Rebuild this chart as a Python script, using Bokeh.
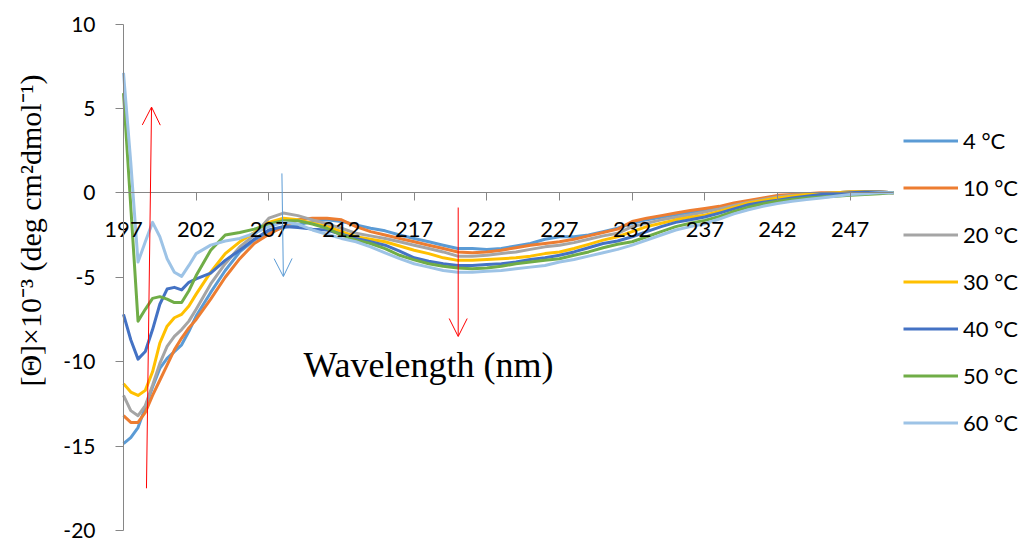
from bokeh.plotting import figure
from bokeh.models import Range1d, FixedTicker, Legend, LegendItem, Label, Arrow, OpenHead
from bokeh.embed import file_html
from bokeh.resources import INLINE

# ---- data ----
wavelength = [197, 197.5, 198, 198.5, 199, 199.5, 200, 200.5, 201, 201.5, 202,
              203, 204, 205, 206, 207, 208, 209, 210, 211, 212,
              213, 214, 215, 216, 217, 218, 219, 220, 221, 222,
              223, 224, 225, 226, 227, 228, 229, 230, 231, 232,
              233, 234, 235, 236, 237, 238, 239, 240, 241, 242,
              243, 244, 245, 246, 247, 248, 249, 250]

t4 = [-14.85, -14.5, -13.9, -12.7, -11.5, -10.4, -9.8, -9.4, -9.0, -8.2, -7.3,
      -5.9, -4.6, -3.5, -2.8, -2.35, -2.05, -1.9, -1.7, -1.6, -1.7,
      -1.9, -2.1, -2.25, -2.5, -2.7, -2.9, -3.1, -3.3, -3.3, -3.35,
      -3.3, -3.15, -3.0, -2.75, -2.6, -2.6, -2.5, -2.3, -2.1, -1.8,
      -1.6, -1.45, -1.3, -1.15, -1.0, -0.85, -0.7, -0.55, -0.4, -0.25,
      -0.15, -0.1, -0.05, 0.0, 0.05, 0.05, 0.05, 0.0]

t10 = [-13.2, -13.6, -13.6, -13.0, -12.0, -11.1, -10.2, -9.3, -8.6, -8.0, -7.5,
       -6.3, -5.0, -3.9, -3.0, -2.45, -2.0, -1.6, -1.5, -1.5, -1.6,
       -2.0, -2.3, -2.5, -2.7, -2.9, -3.1, -3.3, -3.5, -3.55, -3.5,
       -3.4, -3.25, -3.1, -3.0, -2.9, -2.75, -2.55, -2.35, -2.15, -1.7,
       -1.5, -1.35, -1.2, -1.05, -0.93, -0.8, -0.6, -0.45, -0.3, -0.15,
       -0.1, -0.05, 0.0, 0.0, 0.05, 0.05, 0.05, 0.0]

t20 = [-12.0, -12.9, -13.2, -12.6, -11.4, -10.1, -9.1, -8.5, -8.1, -7.6, -6.9,
       -5.4, -4.2, -3.2, -2.5, -1.5, -1.2, -1.35, -1.6, -1.85, -2.1,
       -2.4, -2.55, -2.7, -2.9, -3.1, -3.3, -3.5, -3.75, -3.75, -3.7,
       -3.6, -3.5, -3.35, -3.2, -3.1, -2.95, -2.75, -2.55, -2.4, -2.0,
       -1.8, -1.6, -1.45, -1.3, -1.13, -0.95, -0.75, -0.55, -0.4, -0.25,
       -0.15, -0.1, -0.05, 0.0, 0.05, 0.05, 0.05, 0.0]

t30 = [-11.3, -11.8, -12.0, -11.7, -10.6, -8.9, -7.9, -7.4, -7.2, -6.7, -6.0,
       -4.7, -3.6, -2.9, -2.35, -1.75, -1.5, -1.6, -1.8, -2.0, -2.3,
       -2.6, -2.75, -2.9, -3.15, -3.4, -3.6, -3.85, -4.0, -4.0, -3.95,
       -3.9, -3.85, -3.75, -3.6, -3.5, -3.3, -3.05, -2.8, -2.6, -2.3,
       -2.0, -1.8, -1.6, -1.45, -1.33, -1.1, -0.85, -0.6, -0.45, -0.3,
       -0.2, -0.1, -0.05, 0.0, 0.05, 0.08, 0.05, 0.0]

t40 = [-7.2, -8.7, -9.85, -9.4, -8.1, -6.6, -5.7, -5.6, -5.75, -5.3, -5.1,
       -4.75, -4.0, -3.4, -2.75, -2.2, -2.0, -2.05, -2.15, -2.2, -2.45,
       -2.7, -2.9, -3.1, -3.45, -3.85, -4.05, -4.2, -4.3, -4.3, -4.25,
       -4.2, -4.1, -3.95, -3.85, -3.7, -3.5, -3.25, -3.0, -2.85, -2.6,
       -2.3, -2.0, -1.75, -1.6, -1.43, -1.2, -0.95, -0.7, -0.55, -0.44,
       -0.3, -0.2, -0.1, -0.05, 0.0, 0.05, 0.05, 0.0]

t50 = [5.9, -0.8, -7.6, -6.9, -6.25, -6.15, -6.3, -6.5, -6.5, -5.8, -4.9,
       -3.4, -2.5, -2.35, -2.15, -1.85, -1.65, -1.65, -1.85, -2.1, -2.5,
       -2.8, -3.0, -3.3, -3.7, -3.97, -4.2, -4.35, -4.45, -4.5, -4.45,
       -4.35, -4.2, -4.1, -4.0, -3.9, -3.7, -3.5, -3.25, -3.05, -2.9,
       -2.6, -2.3, -2.0, -1.8, -1.63, -1.4, -1.1, -0.85, -0.65, -0.5,
       -0.4, -0.3, -0.25, -0.2, -0.15, -0.1, -0.05, 0.0]

t60 = [7.1, 1.8, -4.1, -2.9, -1.75, -2.6, -3.9, -4.7, -4.95, -4.3, -3.6,
       -3.1, -2.85, -2.7, -2.4, -2.0, -1.75, -1.85, -2.2, -2.45, -2.7,
       -2.9, -3.2, -3.55, -3.9, -4.2, -4.4, -4.6, -4.7, -4.7, -4.65,
       -4.6, -4.5, -4.4, -4.3, -4.1, -3.95, -3.75, -3.55, -3.35, -3.1,
       -2.8, -2.5, -2.2, -2.0, -1.83, -1.55, -1.25, -1.0, -0.8, -0.63,
       -0.5, -0.4, -0.3, -0.2, -0.1, -0.05, 0.0, 0.0]

series_names = ["4 °C", "10 °C", "20 °C", "30 °C", "40 °C", "50 °C", "60 °C"]
series_values = [t4, t10, t20, t30, t40, t50, t60]
series_colors = ["#5B9BD5", "#ED7D31", "#A5A5A5", "#FFC000", "#4472C4", "#70AD47", "#9DC3E6"]

x_ticks = [197, 202, 207, 212, 217, 222, 227, 232, 237, 242, 247]
y_ticks = [-20, -15, -10, -5, 0, 5, 10]
y_tick_labels = ["-20", "-15", "-10", "-5", "0", "5", "10"]

x_title = "Wavelength (nm)"
y_title = "[Θ]×10⁻³ (deg cm²dmol⁻¹)"

# annotation arrows: (x_start, y_start, x_end, y_end, colour)
arrows = [
    (198.58, -17.5, 198.93, 5.08, "red"),
    (220.03, -0.87, 220.03, -8.51, "red"),
    (207.9, 1.15, 208.0, -4.96, "#5B9BD5"),
]

# ---- layout geometry (pixels) ----
W, H = 1022, 541
px_per_nm = 14.533
px_per_unit = 16.883
x0_px = 123.0      # where 197 nm sits
ytop_px = 23.5     # where +10 sits

x_start = 197 - x0_px / px_per_nm
x_end = x_start + W / px_per_nm
y_top = 10 + ytop_px / px_per_unit
y_bot = y_top - H / px_per_unit

p = figure(frame_width=W, frame_height=H, min_border=0,
           x_range=Range1d(x_start, x_end), y_range=Range1d(y_bot, y_top),
           output_backend="svg", toolbar_location=None)
p.outline_line_color = None
p.grid.visible = False
p.background_fill_color = "white"
p.border_fill_color = "white"

axis_col = "#868686"

xa = p.xaxis[0]
xa.fixed_location = 0
xa.bounds = (197, 250)
xa.ticker = FixedTicker(ticks=x_ticks)
xa.axis_line_color = axis_col
xa.major_tick_line_color = axis_col
xa.major_tick_in = 0
xa.major_tick_out = 8
xa.minor_tick_line_color = None
xa.major_label_standoff = 21
xa.major_label_text_font = "Lato"
xa.major_label_text_font_size = "22px"
xa.major_label_text_color = "black"

ya = p.yaxis[0]
ya.fixed_location = 197
ya.bounds = (-20, 10)
ya.ticker = FixedTicker(ticks=y_ticks)
ya.major_label_overrides = {v: s for v, s in zip(y_ticks, y_tick_labels)}
ya.axis_line_color = axis_col
ya.major_tick_line_color = axis_col
ya.major_tick_in = 0
ya.major_tick_out = 8
ya.minor_tick_line_color = None
ya.major_label_standoff = 20
ya.major_label_text_font = "Lato"
ya.major_label_text_font_size = "21px"
ya.major_label_text_color = "black"

items = []
for name, vals, col in zip(series_names, series_values, series_colors):
    r = p.line(wavelength, vals, line_color=col, line_width=3, line_join="round")
    items.append(LegendItem(label=name, renderers=[r]))

legend = Legend(items=items, location=(903, H - 446), orientation="vertical",
                glyph_width=55, glyph_height=47, label_height=47, spacing=0,
                padding=0, margin=0, label_standoff=5,
                border_line_color=None, background_fill_alpha=0,
                label_text_font="Lato", label_text_font_size="22px",
                label_text_color="black")
p.add_layout(legend)

for xs, ys, xe, ye, col in arrows:
    p.add_layout(Arrow(end=OpenHead(size=18, line_color=col, line_width=1),
                       x_start=xs, y_start=ys, x_end=xe, y_end=ye,
                       line_color=col, line_width=1))

p.add_layout(Label(x=428, y=H - 364, x_units="screen", y_units="screen",
                   text=x_title, text_font="Liberation Serif",
                   text_font_size="36px", text_align="center",
                   text_baseline="middle", text_color="black"))

p.add_layout(Label(x=30, y=H - 230, x_units="screen", y_units="screen",
                   angle=90, angle_units="deg",
                   text=y_title, text_font="Liberation Serif",
                   text_font_size="30px", text_align="center",
                   text_baseline="middle", text_color="black"))

open("out.html", "w").write(file_html(p, INLINE))
